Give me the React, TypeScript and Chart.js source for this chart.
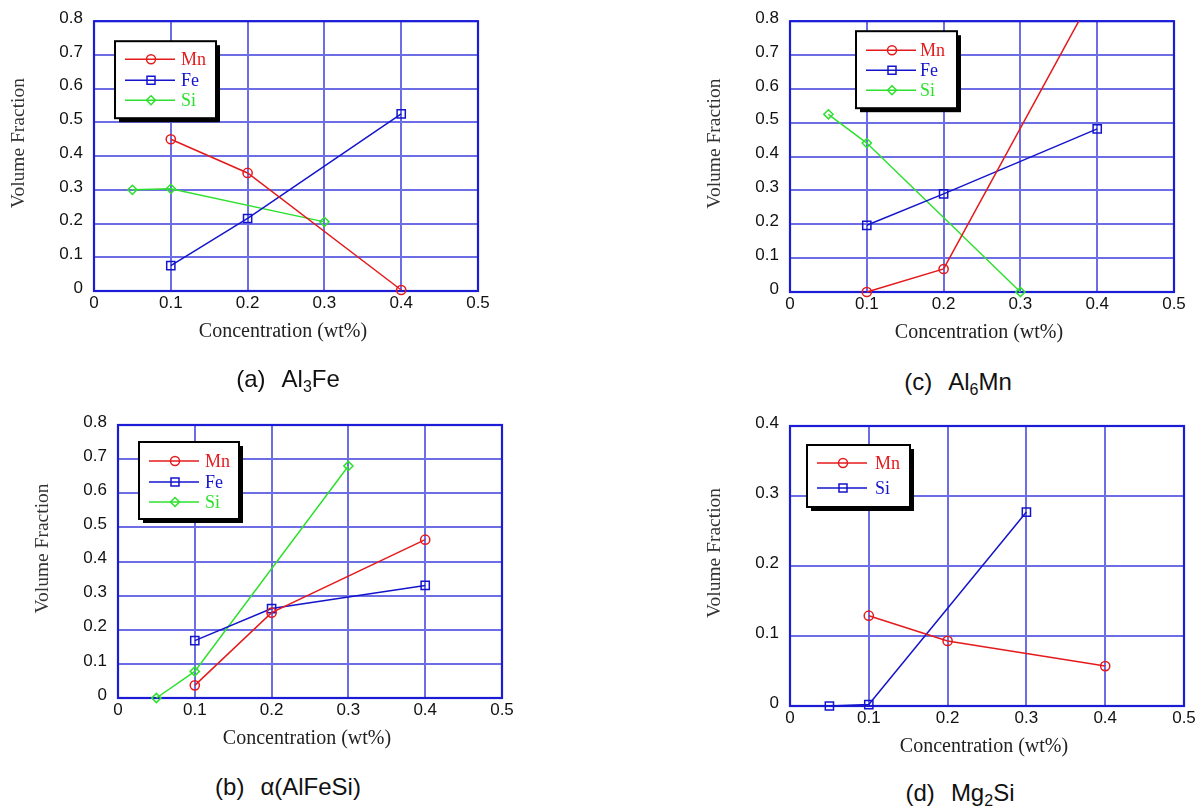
import React, { useEffect, useRef } from 'react';
import { Chart, registerables } from 'chart.js';

Chart.register(...registerables);

// ---- axis ticks ----
const xTickValues = [0, 0.1, 0.2, 0.3, 0.4, 0.5];
const xTickLabels = ['0', '0.1', '0.2', '0.3', '0.4', '0.5'];
const yTickValuesTall = [0, 0.1, 0.2, 0.3, 0.4, 0.5, 0.6, 0.7, 0.8];
const yTickLabelsTall = ['0', '0.1', '0.2', '0.3', '0.4', '0.5', '0.6', '0.7', '0.8'];
const yTickValuesShort = [0, 0.1, 0.2, 0.3, 0.4];
const yTickLabelsShort = ['0', '0.1', '0.2', '0.3', '0.4'];

const xTitle = 'Concentration (wt%)';
const yTitle = 'Volume Fraction';

// ---- (a) Al3Fe ----
const aMnX = [0.1, 0.2, 0.4];
const aMnY = [0.45, 0.35, 0.003];
const aFeX = [0.1, 0.2, 0.4];
const aFeY = [0.075, 0.215, 0.525];
const aSiX = [0.05, 0.1, 0.3];
const aSiY = [0.3, 0.303, 0.205];

// ---- (c) Al6Mn ----
const cMnX = [0.1, 0.2, 0.4];
const cMnY = [0.0, 0.068, 0.9];
const cFeX = [0.1, 0.2, 0.4];
const cFeY = [0.197, 0.29, 0.482];
const cSiX = [0.05, 0.1, 0.3];
const cSiY = [0.525, 0.44, 0.0];

// ---- (b) alpha(AlFeSi) ----
const bMnX = [0.1, 0.2, 0.4];
const bMnY = [0.037, 0.25, 0.464];
const bFeX = [0.1, 0.2, 0.4];
const bFeY = [0.168, 0.262, 0.33];
const bSiX = [0.05, 0.1, 0.3];
const bSiY = [0.0, 0.078, 0.68];

// ---- (d) Mg2Si ----
const dMnX = [0.1, 0.2, 0.4];
const dMnY = [0.129, 0.093, 0.057];
const dSiX = [0.05, 0.1, 0.3];
const dSiY = [0.0, 0.002, 0.277];

const seriesNames3 = ['Mn', 'Fe', 'Si'];
const seriesNames2 = ['Mn', 'Si'];

const captionLetters = ['(a)', '(c)', '(b)', '(d)'];

// ---- styles ----
const RED = '#e41a1c';
const BLUE = '#1414cc';
const GREEN = '#2ee02e';
const GRID = '#6d6de6';
const FRAME = '#1c1cd6';

type Series = { name: string; xs: number[]; ys: number[]; color: string; shape: string; clipTop?: boolean };
type Panel = {
  left: number; top: number; w: number; h: number;
  pl: number; pt: number; pr: number; pb: number;
  ymax: number; yTicks: number[]; yLabels: string[];
  series: Series[];
  legend: { dx: number; dy: number; w: number; h: number; rows: number[]; textX: number };
};

const pts = (xs: number[], ys: number[]) => xs.map((x, i) => ({ x, y: ys[i] }));

const panels: Panel[] = [
  {
    left: 0, top: 0, w: 500, h: 365, pl: 94, pt: 19, pr: 478, pb: 291,
    ymax: 0.8, yTicks: yTickValuesTall, yLabels: yTickLabelsTall,
    series: [
      { name: seriesNames3[0], xs: aMnX, ys: aMnY, color: RED, shape: 'circle' },
      { name: seriesNames3[1], xs: aFeX, ys: aFeY, color: BLUE, shape: 'rect' },
      { name: seriesNames3[2], xs: aSiX, ys: aSiY, color: GREEN, shape: 'rectRot' },
    ],
    legend: { dx: 21, dy: 20, w: 101, h: 77, rows: [18, 39, 59], textX: 66 },
  },
  {
    left: 690, top: 0, w: 512, h: 365, pl: 100, pt: 19, pr: 484, pb: 292,
    ymax: 0.8, yTicks: yTickValuesTall, yLabels: yTickLabelsTall,
    series: [
      { name: seriesNames3[0], xs: cMnX, ys: cMnY, color: RED, shape: 'circle', clipTop: true },
      { name: seriesNames3[1], xs: cFeX, ys: cFeY, color: BLUE, shape: 'rect' },
      { name: seriesNames3[2], xs: cSiX, ys: cSiY, color: GREEN, shape: 'rectRot' },
    ],
    legend: { dx: 66, dy: 10, w: 101, h: 77, rows: [19, 39, 59], textX: 64 },
  },
  {
    left: 0, top: 400, w: 520, h: 365, pl: 118, pt: 25, pr: 502, pb: 298,
    ymax: 0.8, yTicks: yTickValuesTall, yLabels: yTickLabelsTall,
    series: [
      { name: seriesNames3[0], xs: bMnX, ys: bMnY, color: RED, shape: 'circle' },
      { name: seriesNames3[1], xs: bFeX, ys: bFeY, color: BLUE, shape: 'rect' },
      { name: seriesNames3[2], xs: bSiX, ys: bSiY, color: GREEN, shape: 'rectRot' },
    ],
    legend: { dx: 21, dy: 17, w: 100, h: 77, rows: [19, 40, 60], textX: 66 },
  },
  {
    left: 690, top: 400, w: 512, h: 365, pl: 100, pt: 26, pr: 494, pb: 306,
    ymax: 0.4, yTicks: yTickValuesShort, yLabels: yTickLabelsShort,
    series: [
      { name: seriesNames2[0], xs: dMnX, ys: dMnY, color: RED, shape: 'circle' },
      { name: seriesNames2[1], xs: dSiX, ys: dSiY, color: BLUE, shape: 'rect' },
    ],
    legend: { dx: 17, dy: 19, w: 103, h: 62, rows: [18, 43], textX: 68 },
  },
];

const captions = [
  { cx: 288, cy: 379, letter: captionLetters[0], pre: 'Al', sub: '3', post: 'Fe' },
  { cx: 958, cy: 382, letter: captionLetters[1], pre: 'Al', sub: '6', post: 'Mn' },
  { cx: 288, cy: 787, letter: captionLetters[2], pre: 'α(AlFeSi)', sub: '', post: '' },
  { cx: 960, cy: 793, letter: captionLetters[3], pre: 'Mg', sub: '2', post: 'Si' },
];

function drawMarker(ctx: CanvasRenderingContext2D, shape: string, x: number, y: number) {
  ctx.beginPath();
  if (shape === 'circle') {
    ctx.arc(x, y, 4.5, 0, Math.PI * 2);
  } else if (shape === 'rect') {
    ctx.rect(x - 4, y - 4, 8, 8);
  } else {
    ctx.moveTo(x, y - 4.5);
    ctx.lineTo(x + 4.5, y);
    ctx.lineTo(x, y + 4.5);
    ctx.lineTo(x - 4.5, y);
    ctx.closePath();
  }
  ctx.stroke();
}

function ChartPanel({ p }: { p: Panel }) {
  const ref = useRef<HTMLCanvasElement | null>(null);
  useEffect(() => {
    if (!ref.current) return;
    const tickFont = { family: '"Liberation Sans", Arial, sans-serif', size: 17 };
    const decor = {
      id: 'decor',
      beforeDatasetsDraw(chart: any) {
        const { ctx, chartArea: a } = chart;
        ctx.save();
        ctx.strokeStyle = FRAME;
        ctx.lineWidth = 2.2;
        ctx.strokeRect(a.left, a.top, a.right - a.left, a.bottom - a.top);
        ctx.restore();
      },
      afterDatasetsDraw(chart: any) {
        const { ctx, chartArea: a } = chart;
        ctx.save();
        // legend box with shadow
        const lx = a.left + p.legend.dx;
        const ly = a.top + p.legend.dy;
        ctx.fillStyle = '#000';
        ctx.fillRect(lx + 4, ly + 4, p.legend.w, p.legend.h);
        ctx.fillStyle = '#fff';
        ctx.fillRect(lx, ly, p.legend.w, p.legend.h);
        ctx.strokeStyle = '#000';
        ctx.lineWidth = 2;
        ctx.strokeRect(lx, ly, p.legend.w, p.legend.h);
        p.series.forEach((s, i) => {
          const ry = ly + p.legend.rows[i];
          ctx.strokeStyle = s.color;
          ctx.lineWidth = 1.5;
          ctx.beginPath();
          ctx.moveTo(lx + 10, ry);
          ctx.lineTo(lx + 60, ry);
          ctx.stroke();
          drawMarker(ctx, s.shape, lx + 36, ry);
          ctx.fillStyle = s.color;
          ctx.font = '18px "Liberation Serif", "Times New Roman", serif';
          ctx.textAlign = 'left';
          ctx.textBaseline = 'middle';
          ctx.fillText(s.name, lx + p.legend.textX, ry + 1);
        });
        // axis titles
        ctx.fillStyle = '#222';
        ctx.font = '20px "Liberation Serif", "Times New Roman", serif';
        ctx.textAlign = 'center';
        ctx.textBaseline = 'middle';
        ctx.fillText(xTitle, (a.left + a.right) / 2 - 3, a.bottom + 41);
        ctx.save();
        ctx.translate(a.left - 75, (a.top + a.bottom) / 2 - 13);
        ctx.rotate(-Math.PI / 2);
        ctx.font = '19.5px "Liberation Serif", "Times New Roman", serif';
        ctx.fillStyle = '#333';
        ctx.fillText(yTitle, 0, 0);
        ctx.restore();
        ctx.restore();
      },
    };
    const chart = new Chart(ref.current, {
      type: 'scatter',
      data: {
        datasets: p.series.map((s) => ({
          label: s.name,
          data: pts(s.xs, s.ys),
          showLine: true,
          borderColor: s.color,
          backgroundColor: 'transparent',
          borderWidth: 1.5,
          pointStyle: s.shape as any,
          pointRadius: s.shape === 'rect' ? 5.8 : 4.6,
          pointBorderColor: s.color,
          pointBackgroundColor: 'transparent',
          pointBorderWidth: 1.5,
          tension: 0,
          clip: s.clipTop ? { left: 10, top: 0, right: 10, bottom: 10 } : (false as any),
        })),
      },
      options: {
        responsive: false,
        animation: false,
        devicePixelRatio: 1,
        layout: { padding: { left: 0, top: p.pt, right: p.w - p.pr, bottom: 0 } },
        plugins: {
          legend: { display: false },
          tooltip: { enabled: false },
          title: { display: false },
        },
        scales: {
          x: {
            type: 'linear',
            min: 0,
            max: 0.5,
            afterBuildTicks: (s: any) => {
              s.ticks = xTickValues.map((v) => ({ value: v }));
            },
            afterFit: (s: any) => {
              s.height = p.h - p.pb;
            },
            grid: { color: GRID, lineWidth: 2, drawTicks: false },
            border: { display: false },
            ticks: {
              padding: 2,
              color: '#111',
              font: tickFont,
              maxRotation: 0,
              callback: (_v: any, i: number) => xTickLabels[i],
            },
          },
          y: {
            type: 'linear',
            min: 0,
            max: p.ymax,
            afterBuildTicks: (s: any) => {
              s.ticks = p.yTicks.map((v) => ({ value: v }));
            },
            afterFit: (s: any) => {
              s.width = p.pl;
            },
            grid: { color: GRID, lineWidth: 2, drawTicks: false },
            border: { display: false },
            ticks: {
              padding: 11,
              labelOffset: -3,
              color: '#111',
              font: tickFont,
              callback: (_v: any, i: number) => p.yLabels[i],
            },
          },
        },
      } as any,
      plugins: [decor],
    });
    return () => chart.destroy();
  }, [p]);
  return (
    <canvas
      ref={ref}
      width={p.w}
      height={p.h}
      style={{ position: 'absolute', left: p.left, top: p.top, width: p.w, height: p.h }}
    />
  );
}

export default function App() {
  return (
    <div style={{ position: 'absolute', left: 0, top: 0, width: 1202, height: 809, background: '#fff', overflow: 'hidden' }}>
      {panels.map((p, i) => (
        <ChartPanel key={i} p={p} />
      ))}
      {captions.map((c, i) => (
        <div
          key={'c' + i}
          style={{
            position: 'absolute',
            left: c.cx - 150,
            top: c.cy - 15,
            width: 300,
            height: 30,
            lineHeight: '30px',
            textAlign: 'center',
            fontFamily: '"Liberation Sans", Arial, sans-serif',
            fontSize: 24,
            color: '#111',
            whiteSpace: 'pre',
          }}
        >
          {c.letter}
          <span style={{ marginLeft: 16 }}>
            {c.pre}
            {c.sub ? (
              <span style={{ fontSize: 16, position: 'relative', top: 5 }}>{c.sub}</span>
            ) : null}
            {c.post}
          </span>
        </div>
      ))}
    </div>
  );
}
